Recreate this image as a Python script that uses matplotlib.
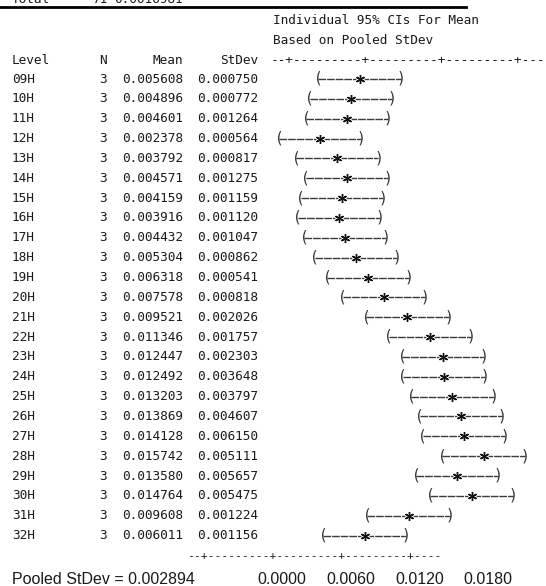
import matplotlib
matplotlib.use("Agg")
import matplotlib.pyplot as plt
import numpy as np
from matplotlib.transforms import blended_transform_factory

# ---------------- data ----------------
levels = ["09H", "10H", "11H", "12H", "13H", "14H", "15H", "16H", "17H", "18H",
          "19H", "20H", "21H", "22H", "23H", "24H", "25H", "26H", "27H", "28H",
          "29H", "30H", "31H", "32H"]
n_obs = [3] * 24
means = [0.005608, 0.004896, 0.004601, 0.002378, 0.003792, 0.004571, 0.004159,
         0.003916, 0.004432, 0.005304, 0.006318, 0.007578, 0.009521, 0.011346,
         0.012447, 0.012492, 0.013203, 0.013869, 0.014128, 0.015742, 0.013580,
         0.014764, 0.009608, 0.006011]
stdevs = [0.000750, 0.000772, 0.001264, 0.000564, 0.000817, 0.001275, 0.001159,
          0.001120, 0.001047, 0.000862, 0.000541, 0.000818, 0.002026, 0.001757,
          0.002303, 0.003648, 0.003797, 0.004607, 0.006150, 0.005111, 0.005657,
          0.005475, 0.001224, 0.001156]
pooled_sd = 0.002894
t_crit = 2.012  # t(0.975, df = 47)
tick_labels = ["0.0000", "0.0060", "0.0120", "0.0180"]

# ---------------- layout ----------------
W, H = 546, 586
fig = plt.figure(figsize=(W / 100, H / 100), dpi=100)
ax = fig.add_axes([0, 0, 1, 1])
ax.set_axis_off()

x0_px, px_per_unit = 291.0, 12230.0
ax.set_xlim(-x0_px / px_per_unit, (W - x0_px) / px_per_unit)
row0, dy = 79.0, 19.85
ax.set_ylim((H - row0) / dy, -row0 / dy)

def fx(px):
    return px / W

def fy(py):
    return 1 - py / H

MONO = "DejaVu Sans Mono"
SANS = "Liberation Sans"
TC = "#1a1a1a"
mfs = 9.2

# partially visible "Total" row at very top
fig.text(fx(12), fy(3.0), "Total", family=MONO, fontsize=mfs, color=TC, va="baseline")
fig.text(fx(107), fy(3.0), "71", family=MONO, fontsize=mfs, color=TC, va="baseline", ha="right")
fig.text(fx(183), fy(3.0), "0.0016981", family=MONO, fontsize=mfs, color=TC, va="baseline", ha="right")
fig.add_artist(plt.Line2D([0, fx(466)], [fy(7), fy(7)], color="black", lw=2))

fig.text(fx(273), fy(20.5), "Individual 95% CIs For Mean", family=MONO, fontsize=mfs,
         color=TC, va="center")
fig.text(fx(273), fy(40), "Based on Pooled StDev", family=MONO, fontsize=mfs,
         color=TC, va="center")

hy = fy(60.5)
fig.text(fx(12), hy, "Level", family=MONO, fontsize=mfs, color=TC, va="center")
fig.text(fx(107), hy, "N", family=MONO, fontsize=mfs, color=TC, va="center", ha="right")
fig.text(fx(183), hy, "Mean", family=MONO, fontsize=mfs, color=TC, va="center", ha="right")
fig.text(fx(258), hy, "StDev", family=MONO, fontsize=mfs, color=TC, va="center", ha="right")
fig.text(fx(271), hy, "--+---------+---------+---------+----", family=MONO,
         fontsize=mfs, color=TC, va="center")

# table rows
tr = blended_transform_factory(fig.transFigure, ax.transData)
for i, (lv, nn, m, s) in enumerate(zip(levels, n_obs, means, stdevs)):
    ax.text(fx(12), i, lv, transform=tr, family=MONO, fontsize=mfs, color=TC, va="center")
    ax.text(fx(107), i, f"{nn}", transform=tr, family=MONO, fontsize=mfs, color=TC,
            va="center", ha="right")
    ax.text(fx(183), i, f"{m:.6f}", transform=tr, family=MONO, fontsize=mfs, color=TC,
            va="center", ha="right")
    ax.text(fx(258), i, f"{s:.6f}", transform=tr, family=MONO, fontsize=mfs, color=TC,
            va="center", ha="right")

# confidence intervals
means_a = np.array(means)
half = t_crit * pooled_sd / np.sqrt(np.array(n_obs))
lo = means_a - half
hi = means_a + half
rows = np.arange(len(levels))
for i in rows:
    ax.plot([lo[i], hi[i]], [i, i], color="#3a3a3a", lw=1.0,
            linestyle=(0, (5.5, 0.7)), solid_capstyle="butt")
    ax.text(lo[i], i - 0.03, "(", family=MONO, fontsize=10.5, color="#333333",
            ha="center", va="center")
    ax.text(hi[i], i - 0.03, ")", family=MONO, fontsize=10.5, color="#333333",
            ha="center", va="center")
ax.plot(means_a, rows, linestyle="none", marker="o", ms=5, mfc="white", mec="white")
ax.plot(means_a, rows, linestyle="none", marker=(6, 2, 0), ms=6.5, mec="#111111",
        mew=1.0)

# bottom scale
fig.text(fx(187), fy(556), "--+---------+---------+---------+----", family=MONO,
         fontsize=8.2, color=TC, va="center")
fig.text(fx(12), fy(580), f"Pooled StDev = {pooled_sd:.6f}", family=SANS,
         fontsize=11.5, color=TC, va="center")
label_px = [281.5, 350.5, 419.5, 488.0]
for lab, px in zip(tick_labels, label_px):
    fig.text(fx(px), fy(580), lab, family=SANS, fontsize=11.5, color=TC,
             va="center", ha="center")

fig.savefig("out.png", dpi=100, facecolor="white")
